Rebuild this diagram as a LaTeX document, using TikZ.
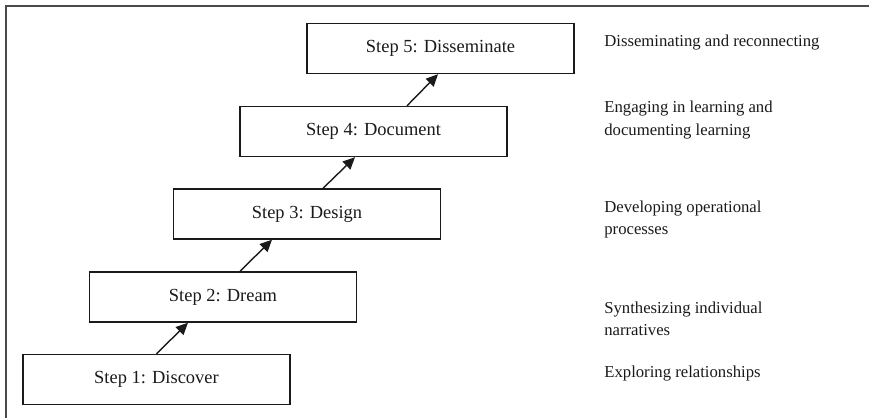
\documentclass[tikz,border=0pt]{standalone}
\usepackage{fontspec}
\setmainfont{Liberation Serif}
\usepackage{xcolor}
\usetikzlibrary{arrows.meta}
\definecolor{Ink}{HTML}{1A1A1A}
\definecolor{FrameGrey}{HTML}{4A4A4A}

\begin{document}
\begin{tikzpicture}[
  x=1cm,y=1cm,
  font=\fontsize{10.5}{12.6}\selectfont,
  stage/.style={draw=Ink,line width=0.8pt,minimum width=5.34cm,
    minimum height=1.0cm,inner sep=0pt,text=Ink},
  rise/.style={-{Triangle[length=2.4mm,width=2.2mm]},draw=Ink,line width=0.8pt},
  note/.style={anchor=west,align=left,inner sep=0pt,text=Ink,
    font=\fontsize{9.5}{12.8}\selectfont}
]
  \useasboundingbox (0,0) rectangle (17.38,8.36);
  \coordinate (framebl) at (0.12,0);
  \coordinate (frametl) at (0.12,8.24);
  \coordinate (frametr) at (17.38,8.24);
  \draw[FrameGrey,line width=0.9pt] (framebl) -- (frametl) -- (frametr);

  \node[stage] (discover) at (3.13,0.77) {Step 1: Discover};
  \node[stage] (dream) at (4.46,2.42) {Step 2: Dream};
  \node[stage] (design) at (6.14,4.08) {Step 3: Design};
  \node[stage] (document) at (7.47,5.73) {Step 4: Document};
  \node[stage] (disseminate) at (8.81,7.39) {Step 5: Disseminate};

  \draw[rise] (discover.north) -- ([xshift=-0.70cm]dream.south);
  \draw[rise] ([xshift=0.34cm]dream.north) -- ([xshift=-0.70cm]design.south);
  \draw[rise] ([xshift=0.32cm]design.north) -- ([xshift=-0.37cm]document.south);
  \draw[rise] ([xshift=0.67cm]document.north) -- ([xshift=-0.05cm]disseminate.south);

  \node[note] (reconnect) at (12.08,7.50) {Disseminating and reconnecting};
  \node[note] (learning) at (12.08,5.96)
    {Engaging in learning and\\documenting learning};
  \node[note] (processes) at (12.08,3.97)
    {Developing operational\\processes};
  \node[note] (narratives) at (12.08,1.98)
    {Synthesizing individual\\narratives};
  \node[note] (relations) at (12.08,0.89) {Exploring relationships};
\end{tikzpicture}
\end{document}
